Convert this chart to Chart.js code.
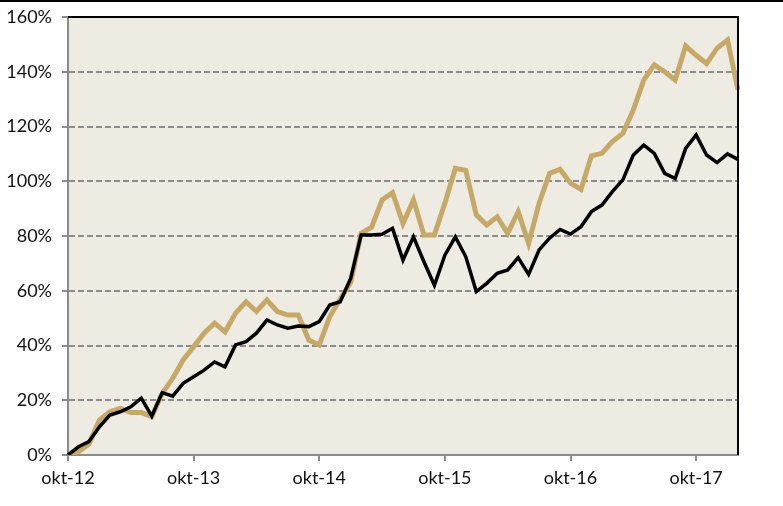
<!DOCTYPE html>
<html lang="no">
<head>
  <meta charset="UTF-8">
  <title>Avkastning</title>
  <script src="https://cdn.jsdelivr.net/npm/chart.js"></script>
  <style>
    html, body { margin: 0; padding: 0; background: #fff; }
    .wrap { position: relative; width: 783px; height: 506px; }
    .topline { position: absolute; left: 0; top: 0; width: 783px; height: 2px; background: #000; }
  </style>
</head>
<body>
  <div class="wrap">
    <canvas id="myChart" width="783" height="506"></canvas>
    <div class="topline"></div>
  </div>

<script>
  // månedlige verdier, okt-12 til feb-18
  const maaneder = [
    'okt-12', 'nov-12', 'des-12', 'jan-13', 'feb-13', 'mar-13', 'apr-13', 'mai-13', 'jun-13', 'jul-13', 'aug-13', 'sep-13',
    'okt-13', 'nov-13', 'des-13', 'jan-14', 'feb-14', 'mar-14', 'apr-14', 'mai-14', 'jun-14', 'jul-14', 'aug-14', 'sep-14',
    'okt-14', 'nov-14', 'des-14', 'jan-15', 'feb-15', 'mar-15', 'apr-15', 'mai-15', 'jun-15', 'jul-15', 'aug-15', 'sep-15',
    'okt-15', 'nov-15', 'des-15', 'jan-16', 'feb-16', 'mar-16', 'apr-16', 'mai-16', 'jun-16', 'jul-16', 'aug-16', 'sep-16',
    'okt-16', 'nov-16', 'des-16', 'jan-17', 'feb-17', 'mar-17', 'apr-17', 'mai-17', 'jun-17', 'jul-17', 'aug-17', 'sep-17',
    'okt-17', 'nov-17', 'des-17', 'jan-18', 'feb-18'
  ];

  const gull = [
    0, 1.2, 4, 12.8, 15.8, 17, 15.5, 15.5, 14, 22.5, 28, 34.7,
    39.5, 44.5, 48.2, 45, 51.8, 56, 52.4, 56.6, 52.4, 51.1, 51.1, 42,
    40.2, 50.5, 57, 63, 81, 83.2, 93.2, 95.8, 84.6, 93.2, 80.4, 80.4,
    92, 104.7, 104, 87.7, 84, 87, 81, 88.9, 77.3, 92, 102.9, 104.4,
    99.3, 97, 109.3, 110.2, 114.5, 117.5, 126, 137, 142.5, 140, 137, 149.4,
    146, 143, 148.6, 151.6, 133.3
  ];

  const svart = [
    0, 3, 4.9, 10.3, 14.6, 15.8, 17.6, 20.8, 14.2, 22.8, 21.5, 26.2,
    28.6, 31, 34, 32.2, 40.2, 41.4, 44.5, 49.3, 47.5, 46.3, 47.1, 46.9,
    48.7, 54.8, 56, 64.5, 80.4, 80.4, 80.6, 82.8, 71.2, 79.7, 70.6, 62,
    73, 79.7, 72.4, 59.7, 62.7, 66.4, 67.6, 72.1, 66, 74.9, 79.2, 82.4,
    80.7, 83.4, 88.9, 91.3, 96.2, 100.5, 109.6, 113.2, 110.2, 102.9, 101, 112,
    116.9, 109.6, 106.8, 110, 108
  ];

  const yMin = 0;
  const yMax = 160;
  const yStep = 20;

  const bakgrunn = {
    id: 'bakgrunn',
    beforeDraw(chart) {
      const { ctx, chartArea: a } = chart;
      ctx.save();
      ctx.fillStyle = '#EEEBE3';
      ctx.fillRect(a.left, a.top, a.right - a.left, a.bottom - a.top);
      ctx.restore();
    },
    afterDraw(chart) {
      const { ctx, chartArea: a } = chart;
      ctx.save();
      ctx.strokeStyle = '#000';
      ctx.lineWidth = 2;
      ctx.beginPath();
      ctx.moveTo(a.left, a.top);
      ctx.lineTo(a.right, a.top);
      ctx.lineTo(a.right, a.bottom);
      ctx.stroke();
      ctx.restore();
    }
  };

  const ctx = document.getElementById('myChart');
  new Chart(ctx, {
    type: 'line',
    data: {
      labels: maaneder,
      datasets: [
        {
          label: 'Indeks',
          data: svart,
          borderColor: '#000000',
          borderWidth: 3.5,
          pointRadius: 0,
          tension: 0,
          order: 1
        },
        {
          label: 'Fond',
          data: gull,
          borderColor: '#C6A968',
          borderWidth: 5,
          pointRadius: 0,
          tension: 0,
          order: 2
        }
      ]
    },
    options: {
      responsive: false,
      animation: false,
      layout: { padding: { left: 0, right: 45, top: 17, bottom: 0 } },
      plugins: {
        legend: { display: false },
        tooltip: { enabled: false }
      },
      scales: {
        x: {
          afterFit: s => { s.height = 51; s.paddingLeft = 0; s.paddingRight = 0; },
          grid: {
            drawOnChartArea: false,
            color: c => (c.index % 12 === 0 ? '#8c8c8c' : 'transparent'),
            lineWidth: 2,
            tickLength: 6
          },
          border: { color: '#8c8c8c', width: 2 },
          ticks: {
            autoSkip: false,
            maxRotation: 0,
            padding: 6,
            color: '#111',
            font: { family: 'Lato', size: 18 },
            callback: function (v, i) { return i % 12 === 0 ? this.getLabelForValue(v) : ''; }
          }
        },
        y: {
          min: yMin,
          max: yMax,
          afterFit: s => { s.width = 68; s.paddingTop = 0; s.paddingBottom = 0; },
          grid: {
            color: '#8c8c8c',
            lineWidth: 2,
            tickLength: 6,
            tickBorderDash: []
          },
          border: { color: '#8c8c8c', width: 2, dash: [6, 3] },
          ticks: {
            stepSize: yStep,
            padding: 10,
            color: '#111',
            font: { family: 'Lato', size: 18 },
            callback: v => v + '%'
          }
        }
      }
    },
    plugins: [bakgrunn]
  });
</script>
</body>
</html>
